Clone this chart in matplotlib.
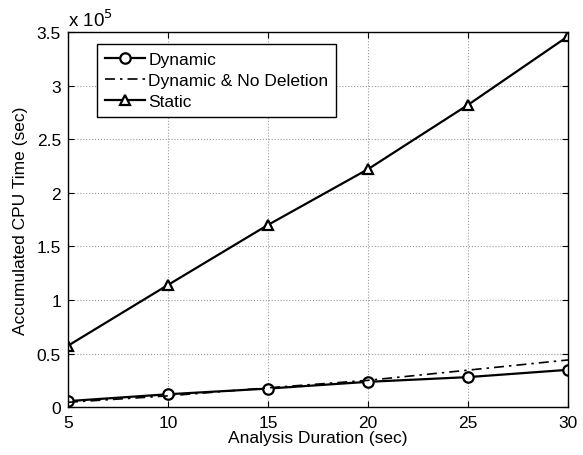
import matplotlib
matplotlib.use("Agg")
import matplotlib.pyplot as plt
from matplotlib.ticker import FuncFormatter

plt.rcParams['font.family'] = ['Liberation Sans', 'DejaVu Sans']

# data (CPU time in units of 1e5 sec)
duration = [5, 10, 15, 20, 25, 30]
dynamic = [0.056, 0.12, 0.173, 0.236, 0.28, 0.348]
dynamic_no_del = [0.045, 0.105, 0.18, 0.25, 0.345, 0.44]
static = [0.573, 1.14, 1.70, 2.22, 2.82, 3.46]

fig = plt.figure(figsize=(5.83, 4.56), dpi=100)
ax = fig.add_axes([0.1166, 0.105, 0.8576, 0.8226])

ax.plot(duration, dynamic, '-o', color='black', lw=1.6, ms=7.5,
        mfc='white', mew=1.6, label='Dynamic')
ax.plot(duration, dynamic_no_del, color='black', lw=1.2,
        dashes=(6, 3, 1.5, 3), label='Dynamic & No Deletion')
ax.plot(duration, static, '-^', color='black', lw=1.6, ms=7.5,
        mfc='white', mew=1.6, label='Static')

ax.set_xlim(5, 30)
ax.set_ylim(0, 3.5)
ax.set_xticks(duration)
ax.set_yticks([0, 0.5, 1, 1.5, 2, 2.5, 3, 3.5])
ax.yaxis.set_major_formatter(FuncFormatter(lambda v, p: '%g' % v))
ax.tick_params(direction='in', top=True, right=True, labelsize=12.5, length=4)
ax.tick_params(axis='x', pad=6)
ax.tick_params(axis='y', pad=5)
ax.grid(True, linestyle=':', color='#999999', lw=0.8)
for s in ax.spines.values():
    s.set_linewidth(1.0)

ax.set_xlabel('Analysis Duration (sec)', fontsize=12.5, labelpad=0)
ax.set_ylabel('Accumulated CPU Time (sec)', fontsize=12.5, labelpad=6)
ax.text(0.0, 1.005, r'x 10$^5$', transform=ax.transAxes, fontsize=13.5,
        ha='left', va='bottom')

leg = ax.legend(loc='upper left', bbox_to_anchor=(0.058, 0.968), fontsize=12.5,
                fancybox=False, framealpha=1, edgecolor='black',
                handlelength=2.3, handletextpad=0.2, borderaxespad=0,
                labelspacing=0.35, borderpad=0.45)
leg.get_frame().set_linewidth(1.0)

fig.savefig('out.png', dpi=100)
